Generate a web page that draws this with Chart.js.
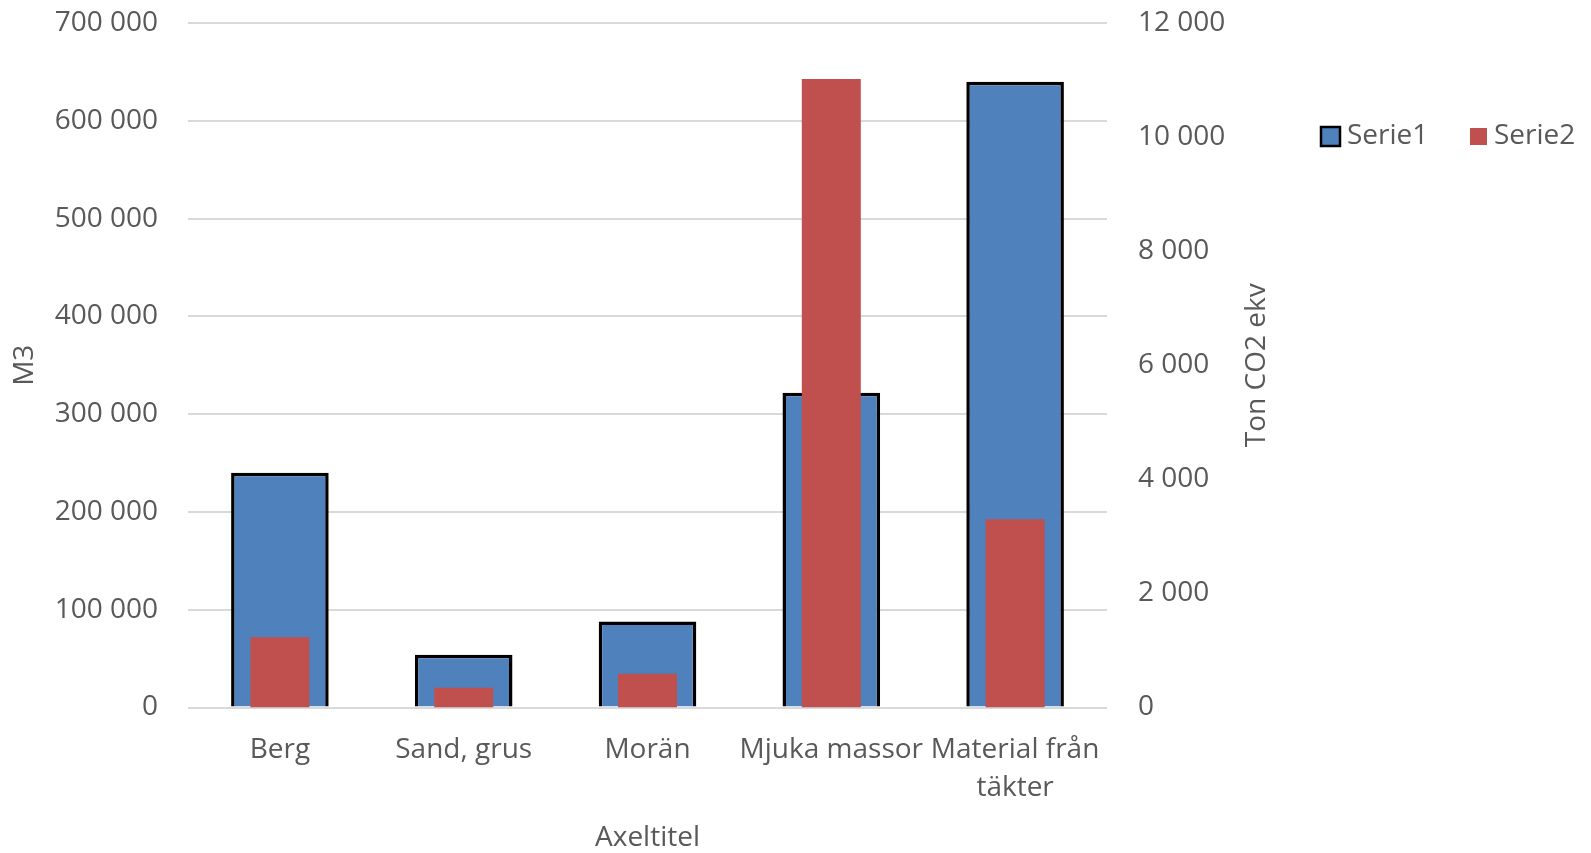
<!DOCTYPE html>
<html>
<head>
<meta charset="utf-8">
<script src="https://cdn.jsdelivr.net/npm/chart.js@4/dist/chart.umd.min.js"></script>
<style>
  html, body { margin: 0; padding: 0; background: #ffffff; }
  #wrap { width: 1591px; height: 853px; position: relative; }
</style>
</head>
<body>
<div id="wrap"><canvas id="chart" width="1591" height="853"></canvas></div>
<script>
// Categories and series
const categories = ['Berg', 'Sand, grus', 'Morän', 'Mjuka massor', ['Material från', 'täkter']];
const seriesNames = ['Serie1', 'Serie2'];
const serie1 = [240000, 54000, 88000, 322000, 640000];   // M3 (left axis)
const serie2 = [1230, 345, 590, 11020, 3300];            // Ton CO2 ekv (right axis)

// Axis ticks
const leftTicks = [0, 100000, 200000, 300000, 400000, 500000, 600000, 700000];
const rightTicks = [0, 2000, 4000, 6000, 8000, 10000, 12000];

// Axis titles
const xTitle = 'Axeltitel';
const leftTitle = 'M3';
const rightTitle = 'Ton CO2 ekv';

const TEXT = '#595959';
const FONT = "'Open Sans', sans-serif";
Chart.defaults.font.family = FONT;
Chart.defaults.color = TEXT;

const fmt = v => String(v).replace(/\B(?=(\d{3})+(?!\d))/g, ' ');

// Fixed scale thickness, without the extra edge padding Chart.js adds for tick labels
const fixSize = (prop, size) => s => {
  s[prop] = size;
  s.paddingTop = 0;
  s.paddingBottom = 0;
  s.paddingLeft = 0;
  s.paddingRight = 0;
};

// Right-hand title (reads bottom to top) and a horizontal legend beside the plot
const extras = {
  id: 'extras',
  afterDraw(chart) {
    const ctx = chart.ctx;
    const area = chart.chartArea;
    ctx.save();
    ctx.fillStyle = TEXT;
    ctx.font = '28px ' + FONT;
    ctx.textAlign = 'center';
    ctx.textBaseline = 'middle';
    ctx.translate(1257, (area.top + area.bottom) / 2);
    ctx.rotate(-Math.PI / 2);
    ctx.fillText(rightTitle, 0, 0);
    ctx.restore();

    const ds = chart.data.datasets;
    const items = [
      { x: 1321, box: 19, text: 1347 },
      { x: 1470, box: 17, text: 1494 }
    ];
    const cy = 136.5;
    ctx.save();
    ctx.font = '28px ' + FONT;
    ctx.textBaseline = 'middle';
    ctx.textAlign = 'left';
    items.forEach((it, i) => {
      const d = ds[i];
      ctx.fillStyle = d.backgroundColor;
      ctx.fillRect(it.x, cy - it.box / 2, it.box, it.box);
      if (d.borderWidth) {
        ctx.strokeStyle = d.borderColor;
        ctx.lineWidth = 2.5;
        ctx.strokeRect(it.x, cy - it.box / 2, it.box, it.box);
      }
      ctx.fillStyle = TEXT;
      ctx.fillText(d.label, it.text, cy);
    });
    ctx.restore();
  }
};

new Chart(document.getElementById('chart'), {
  type: 'bar',
  data: {
    labels: categories,
    datasets: [
      {
        label: seriesNames[0],
        data: serie1,
        yAxisID: 'y',
        backgroundColor: '#4F81BD',
        borderColor: '#000000',
        borderWidth: 3.5,
        borderSkipped: 'start',
        grouped: false,
        barPercentage: 0.531,
        categoryPercentage: 1,
        order: 1
      },
      {
        label: seriesNames[1],
        data: serie2,
        yAxisID: 'y2',
        backgroundColor: '#C0504D',
        borderWidth: 0,
        grouped: false,
        barPercentage: 0.321,
        categoryPercentage: 1,
        order: 0
      }
    ]
  },
  options: {
    responsive: false,
    animation: false,
    devicePixelRatio: 1,
    layout: { padding: { top: 23, right: 314, bottom: 0, left: 0 } },
    plugins: {
      legend: { display: false },
      tooltip: { enabled: false }
    },
    scales: {
      x: {
        type: 'category',
        offset: true,
        grid: { display: false },
        border: { display: false },
        ticks: {
          color: TEXT,
          font: { size: 28, lineHeight: 1.375 },
          padding: 15,
          maxRotation: 0,
          autoSkip: false
        },
        title: {
          display: true,
          text: xTitle,
          color: TEXT,
          font: { size: 28, lineHeight: 1.1 },
          padding: { top: 0, bottom: 0 }
        },
        afterFit: fixSize('height', 145.5)
      },
      y: {
        position: 'left',
        min: 0,
        max: 700000,
        afterBuildTicks(s) { s.ticks = leftTicks.map(v => ({ value: v })); },
        grid: { color: '#d9d9d9', lineWidth: 2, drawTicks: false },
        border: { display: false },
        ticks: {
          color: TEXT,
          font: { size: 28 },
          padding: 30,
          callback: v => fmt(v)
        },
        title: {
          display: true,
          text: leftTitle,
          color: TEXT,
          font: { size: 28, lineHeight: 1.2 },
          padding: { top: 8, bottom: 0 }
        },
        afterFit: fixSize('width', 188)
      },
      y2: {
        position: 'right',
        min: 0,
        max: 12000,
        afterBuildTicks(s) { s.ticks = rightTicks.map(v => ({ value: v })); },
        grid: { display: false, drawTicks: false },
        border: { display: false },
        ticks: {
          color: TEXT,
          font: { size: 28 },
          padding: 31,
          callback: v => fmt(v)
        },
        afterFit: fixSize('width', 170)
      }
    }
  },
  plugins: [extras]
});
</script>
</body>
</html>
